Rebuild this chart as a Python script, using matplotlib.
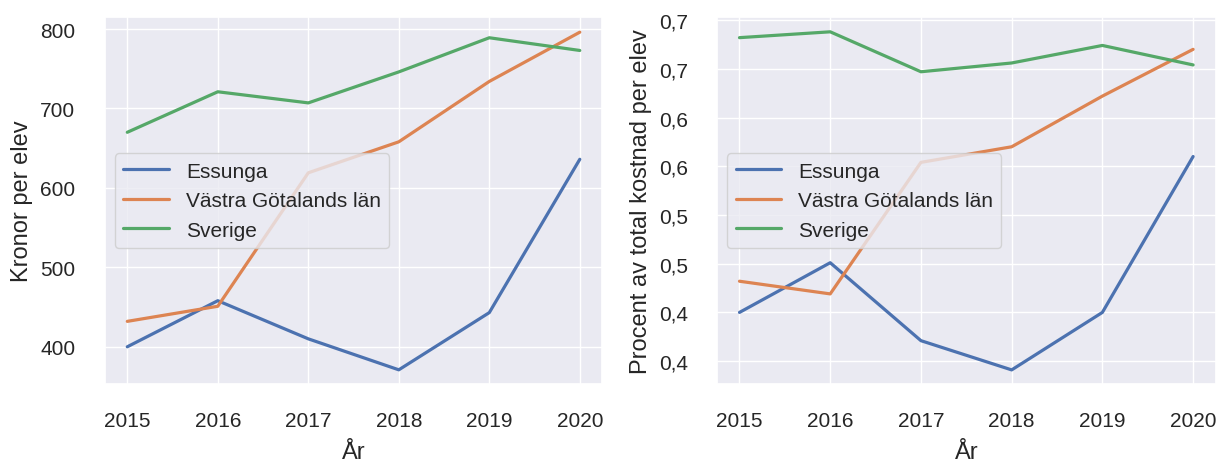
import matplotlib
matplotlib.use("Agg")
import matplotlib.pyplot as plt
import seaborn as sns

years = [2015, 2016, 2017, 2018, 2019, 2020]
series_names = ["Essunga", "Västra Götalands län", "Sverige"]

# Kronor per elev
kronor_essunga = [400, 458, 410, 371, 443, 636]
kronor_vg = [432, 451, 619, 658, 734, 796]
kronor_sverige = [670, 721, 707, 746, 789, 773]

# Andel av total kostnad per elev
andel_essunga = [0.400, 0.451, 0.371, 0.341, 0.400, 0.560]
andel_vg = [0.432, 0.419, 0.554, 0.570, 0.622, 0.670]
andel_sverige = [0.682, 0.688, 0.647, 0.656, 0.674, 0.654]

right_ticks = [0.35, 0.40, 0.45, 0.50, 0.55, 0.60, 0.65, 0.70]
right_ticklabels = ["0,4", "0,4", "0,5", "0,5", "0,6", "0,6", "0,7", "0,7"]

sns.set_theme(style="darkgrid")
plt.rcParams['font.family'] = ['Liberation Sans', 'DejaVu Sans']

fig = plt.figure(figsize=(12.17, 4.64), dpi=100)
ax1 = fig.add_axes([0.086, 0.170, 0.409, 0.791])
ax2 = fig.add_axes([0.589, 0.170, 0.410, 0.791])

colors = sns.color_palette()[:3]

for vals, name, c in zip([kronor_essunga, kronor_vg, kronor_sverige], series_names, colors):
    ax1.plot(years, vals, label=name, color=c, linewidth=2.3)
for vals, name, c in zip([andel_essunga, andel_vg, andel_sverige], series_names, colors):
    ax2.plot(years, vals, label=name, color=c, linewidth=2.3)

ax1.set_yticks([400, 500, 600, 700, 800])
ax1.set_ylim(353, 815)
ax1.set_ylabel("Kronor per elev", fontsize=17, labelpad=5)
ax2.set_yticks(right_ticks)
ax2.set_yticklabels(right_ticklabels)
ax2.set_ylim(0.3264, 0.7031)
ax2.set_ylabel("Procent av total kostnad per elev", fontsize=17, labelpad=5)

for ax in (ax1, ax2):
    ax.set_xticks(years)
    ax.set_xlabel("År", fontsize=17, labelpad=8.5)
    ax.tick_params(axis='both', labelsize=15, length=0)
    ax.tick_params(axis='x', pad=19)
    ax.tick_params(axis='y', pad=21)
    ax.legend(loc="center left", fontsize=15, handlelength=2.2)

fig.savefig("out.png", dpi=100)
